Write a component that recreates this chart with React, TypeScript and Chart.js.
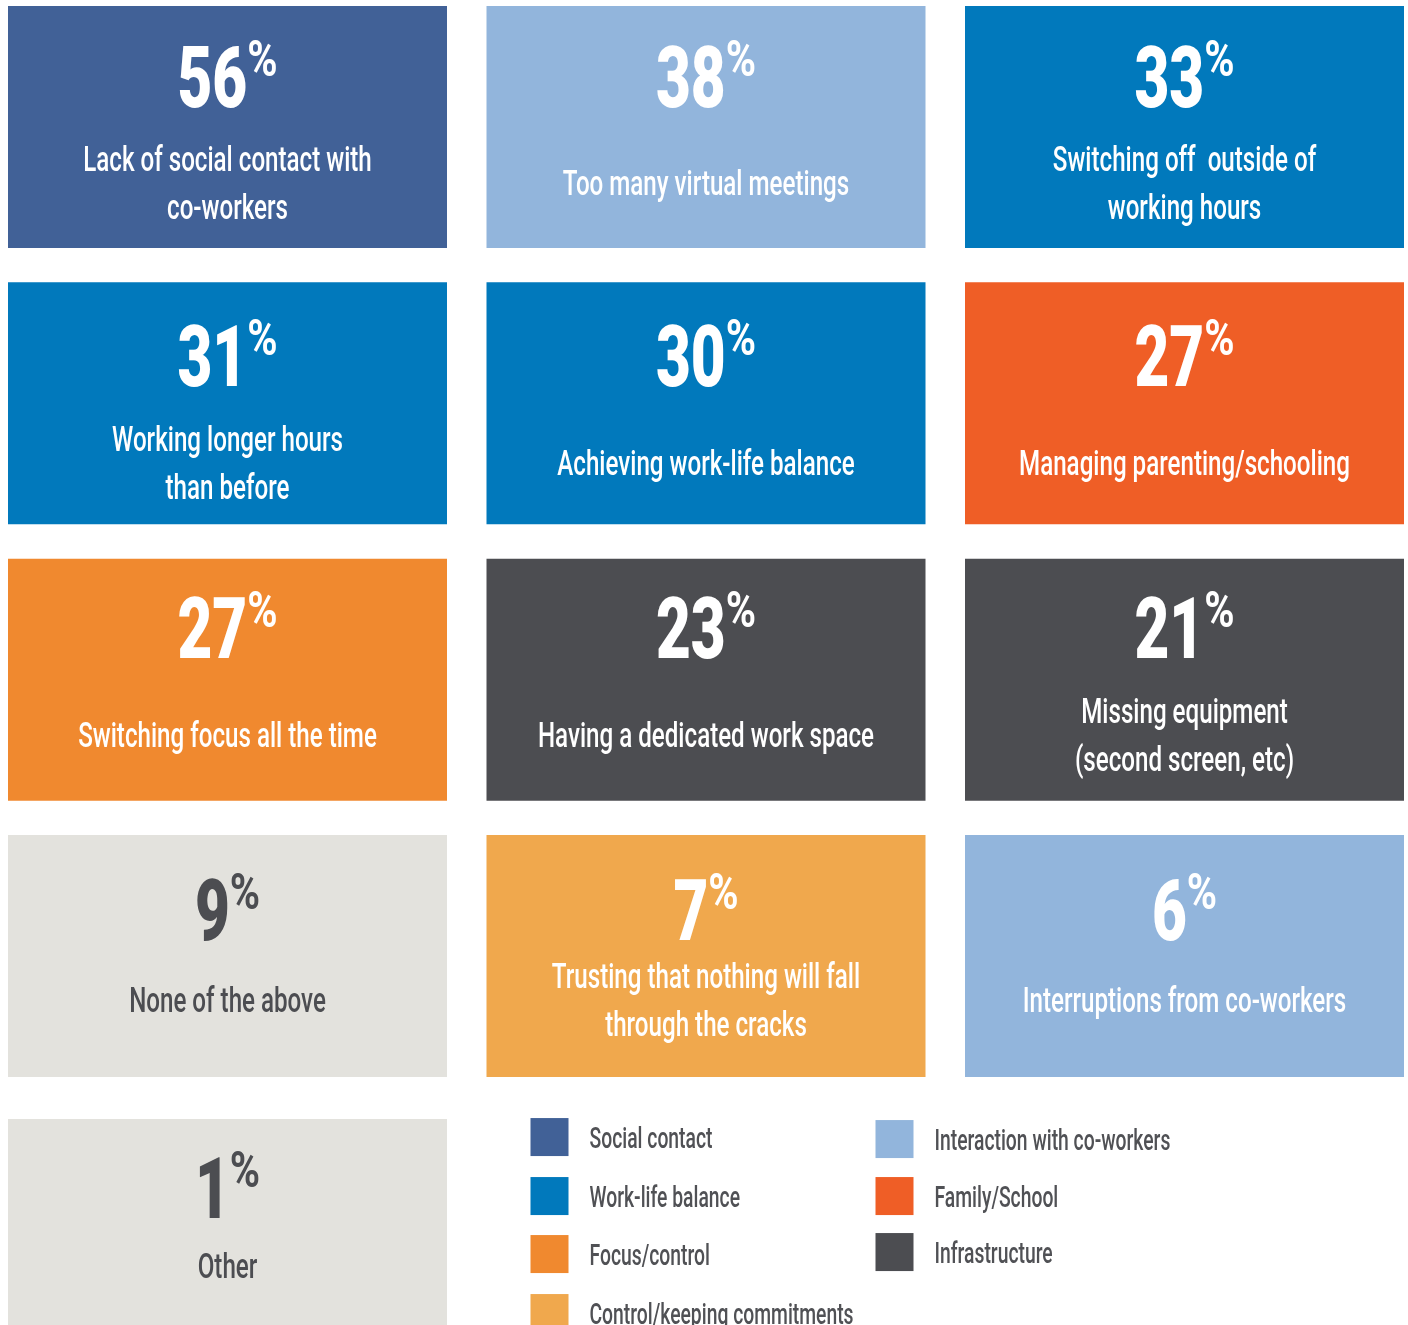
import React, { useEffect, useRef } from "react";
import { Chart, registerables } from "chart.js";

Chart.register(...registerables);

// ---------------- data ----------------
const tileValues = [56, 38, 33, 31, 30, 27, 27, 23, 21, 9, 7, 6, 1];
const tileLabels: string[][] = [
  ["Lack of social contact with", "co-workers"],
  ["Too many virtual meetings"],
  ["Switching off  outside of", "working hours"],
  ["Working longer hours", "than before"],
  ["Achieving work-life balance"],
  ["Managing parenting/schooling"],
  ["Switching focus all the time"],
  ["Having a dedicated work space"],
  ["Missing equipment", "(second screen, etc)"],
  ["None of the above"],
  ["Trusting that nothing will fall", "through the cracks"],
  ["Interruptions from co-workers"],
  ["Other"],
];
const tileCategories = [
  "Social contact",
  "Interaction with co-workers",
  "Work-life balance",
  "Work-life balance",
  "Work-life balance",
  "Family/School",
  "Focus/control",
  "Infrastructure",
  "Infrastructure",
  "None",
  "Control/keeping commitments",
  "Interaction with co-workers",
  "None",
];
const tileColumns = [0, 1, 2, 0, 1, 2, 0, 1, 2, 0, 1, 2, 0];
const tileRows = [0, 0, 0, 1, 1, 1, 2, 2, 2, 3, 3, 3, 4];

const legendCategories = [
  "Social contact",
  "Work-life balance",
  "Focus/control",
  "Control/keeping commitments",
  "Interaction with co-workers",
  "Family/School",
  "Infrastructure",
];
const legendColors = ["#416197", "#0179BC", "#F0892F", "#F0A84D", "#92B5DC", "#EF5E26", "#4C4D51"];
const neutralCategory = "None";
const neutralColor = "#E3E2DD";

// ---------------- layout / style ----------------
const W = 1408;
const H = 1325;
const COL_PITCH = 478.5;
const COL0_CENTER = 227.5;
const TILE_W = 439;
const ROW_PITCH = 276.33;
const ROW0_TOP = 6;
const TILE_H = 242;
const LAST_ROW_SHIFT = 0.028;
const DARK_TEXT = "#4C4D51";
const LEGEND_TEXT = "#505155";
const FONT = "Roboto, 'Noto Sans', sans-serif";

const DIGIT_SIZE = 86;
const DIGIT_SX = 0.7;
const PCT_SIZE = 50;
const PCT_SX = 0.82;
const PCT_GAP = 0;
const PCT_RAISE = 31;
const SUB_SIZE = 35;
const SUB_SX = 0.69;
const SUB_LINE = 48;
const SUB_CAP = 24.5;
const rowDigitBaseline = [101, 104, 99, 105, 99];
const rowSubCenter = [177, 180, 176, 164.5, 147];

const LEG_SQ = 38;
const LEG_FONT = 29.5;
const LEG_SX = 0.655;
const LEG_CAP = 21;
const legendColumnX = [44, 389];
const legendColumnTops = [
  [-1, 58, 116, 175],
  [1, 58, 114],
];

const rowPos = (r: number) => r + (r >= 4 ? LAST_ROW_SHIFT : 0);
const colorFor = (cat: string) =>
  cat === neutralCategory ? neutralColor : legendColors[legendCategories.indexOf(cat)];

function drawScaled(
  ctx: CanvasRenderingContext2D,
  text: string,
  x: number,
  y: number,
  font: string,
  sx: number,
  align: CanvasTextAlign
) {
  ctx.save();
  ctx.font = font;
  ctx.textAlign = align;
  ctx.textBaseline = "alphabetic";
  ctx.translate(x, y);
  ctx.scale(sx, 1);
  ctx.fillText(text, 0, 0);
  ctx.restore();
}

const tilePlugin = {
  id: "tileText",
  afterDatasetsDraw(chart: any) {
    const ctx: CanvasRenderingContext2D = chart.ctx;
    const meta = chart.getDatasetMeta(0);
    meta.data.forEach((el: any, i: number) => {
      const p = el.getProps(["x", "y", "base"], true);
      const top = Math.min(p.y, p.base);
      const cx = p.x;
      const r = tileRows[i];
      const color = tileCategories[i] === neutralCategory ? DARK_TEXT : "#FFFFFF";
      ctx.fillStyle = color;

      // big number + %
      const num = String(tileValues[i]);
      const digitFont = `900 ${DIGIT_SIZE}px ${FONT}`;
      const pctFont = `700 ${PCT_SIZE}px ${FONT}`;
      ctx.font = digitFont;
      const wd = ctx.measureText(num).width * DIGIT_SX;
      ctx.font = pctFont;
      const wp = ctx.measureText("%").width * PCT_SX;
      const x0 = cx - (wd + PCT_GAP + wp) / 2;
      const base = top + rowDigitBaseline[r];
      drawScaled(ctx, num, x0, base, digitFont, DIGIT_SX, "left");
      drawScaled(ctx, "%", x0 + wd + PCT_GAP, base - PCT_RAISE, pctFont, PCT_SX, "left");

      // subtitle
      const lines = tileLabels[i];
      const subFont = `500 ${SUB_SIZE}px ${FONT}`;
      const firstBase = top + rowSubCenter[r] - ((lines.length - 1) * SUB_LINE) / 2 + SUB_CAP / 2;
      lines.forEach((ln, k) => {
        drawScaled(ctx, ln, cx, firstBase + k * SUB_LINE, subFont, SUB_SX, "center");
      });
    });

    // legend
    const xs = chart.scales.x;
    const ys = chart.scales.y;
    const anchorX = xs.getPixelForValue(1) - TILE_W / 2;
    const anchorY = ys.getPixelForValue(rowPos(4));
    const legFont = `500 ${LEG_FONT}px ${FONT}`;
    let idx = 0;
    legendColumnTops.forEach((tops, c) => {
      tops.forEach((t) => {
        const sx = anchorX + legendColumnX[c];
        const sy = anchorY + t;
        ctx.fillStyle = legendColors[idx];
        ctx.fillRect(sx, sy, LEG_SQ, LEG_SQ);
        ctx.fillStyle = LEGEND_TEXT;
        drawScaled(ctx, legendCategories[idx], sx + LEG_SQ + 21, sy + LEG_SQ / 2 + LEG_CAP / 2, legFont, LEG_SX, "left");
        idx++;
      });
    });
  },
};

export default function App() {
  const ref = useRef<HTMLCanvasElement | null>(null);
  useEffect(() => {
    if (!ref.current) return;
    const xMin = -COL0_CENTER / COL_PITCH;
    const yMin = -ROW0_TOP / ROW_PITCH;
    const chart = new Chart(ref.current, {
      type: "bar",
      data: {
        datasets: [
          {
            label: "tiles",
            data: tileValues.map((_, i) => ({
              x: tileColumns[i],
              y: [rowPos(tileRows[i]), rowPos(tileRows[i]) + TILE_H / ROW_PITCH],
            })) as any,
            backgroundColor: tileCategories.map(colorFor),
            borderWidth: 0,
            barPercentage: TILE_W / COL_PITCH,
            categoryPercentage: 1,
          },
        ],
      },
      options: {
        responsive: false,
        maintainAspectRatio: false,
        animation: false,
        layout: { padding: 0 },
        plugins: { legend: { display: false }, tooltip: { enabled: false }, title: { display: false } },
        scales: {
          x: {
            type: "linear",
            display: false,
            offset: false,
            min: xMin,
            max: xMin + W / COL_PITCH,
            ticks: { stepSize: 1, includeBounds: false },
          },
          y: {
            type: "linear",
            display: false,
            reverse: true,
            min: yMin,
            max: yMin + H / ROW_PITCH,
          },
        },
      },
      plugins: [tilePlugin],
    });
    return () => chart.destroy();
  }, []);
  return (
    <div style={{ position: "absolute", left: 0, top: 0, width: W, height: H, background: "#ffffff" }}>
      <canvas ref={ref} width={W} height={H} style={{ display: "block", width: W, height: H }} />
    </div>
  );
}
